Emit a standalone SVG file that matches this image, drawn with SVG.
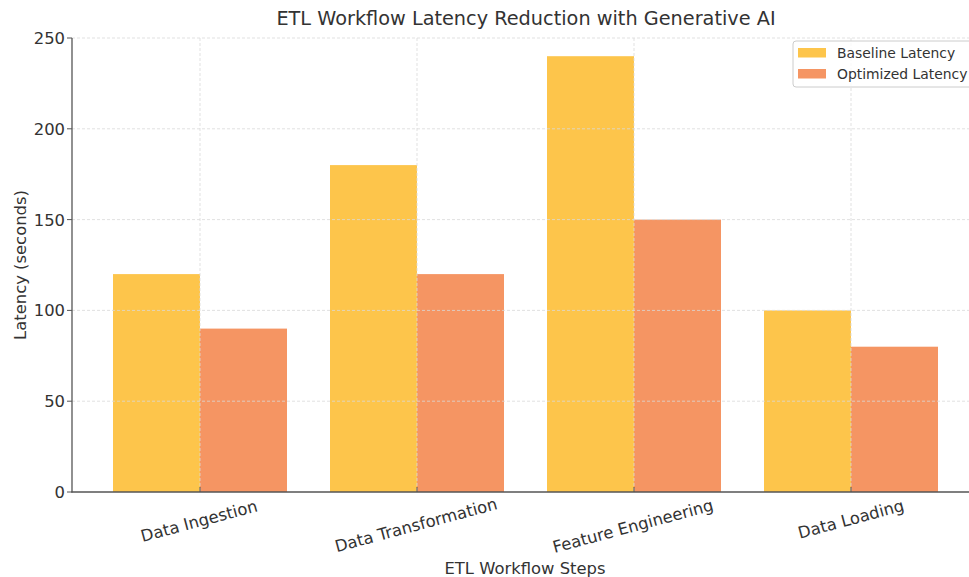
<svg xmlns="http://www.w3.org/2000/svg" width="969" height="577" viewBox="0 0 969 577">
<style>
text{font-family:"DejaVu Sans","Liberation Sans",sans-serif;fill:#333}
.grid{stroke:#d9d9d9;stroke-width:0.8;stroke-dasharray:3,2;fill:none}
.base{fill:#FDC54B}
.opt{fill:#F59563}
.tick{font-size:16.4px}
.spine{stroke:#555;stroke-width:1.3}
</style>
<rect width="969" height="577" fill="#fff"/>
<text x="526" y="25" text-anchor="middle" font-size="19.3">ETL Workflow Latency Reduction with Generative AI</text>
<g id="bars">
<rect class="base" x="113" y="274.1" width="87" height="217.9"/>
<rect class="opt" x="200" y="328.6" width="87" height="163.4"/>
<rect class="base" x="330" y="165.1" width="87" height="326.9"/>
<rect class="opt" x="417" y="274.1" width="87" height="217.9"/>
<rect class="base" x="547" y="56.2" width="87" height="435.8"/>
<rect class="opt" x="634" y="219.6" width="87" height="272.4"/>
<rect class="base" x="764" y="310.4" width="87" height="181.6"/>
<rect class="opt" x="851" y="346.7" width="87" height="145.3"/>
</g>
<g id="gridlines">
<line class="grid" x1="72" y1="38" x2="969" y2="38"/>
<line class="grid" x1="72" y1="128.8" x2="969" y2="128.8"/>
<line class="grid" x1="72" y1="219.6" x2="969" y2="219.6"/>
<line class="grid" x1="72" y1="310.4" x2="969" y2="310.4"/>
<line class="grid" x1="72" y1="401.2" x2="969" y2="401.2"/>
<line class="grid" x1="200" y1="38" x2="200" y2="492"/>
<line class="grid" x1="417" y1="38" x2="417" y2="492"/>
<line class="grid" x1="634" y1="38" x2="634" y2="492"/>
<line class="grid" x1="851" y1="38" x2="851" y2="492"/>
</g>
<g id="axes">
<line class="spine" x1="72" y1="38" x2="72" y2="492.6"/>
<line class="spine" x1="71.4" y1="492" x2="969" y2="492"/>
<g stroke="#555" stroke-width="1">
<line x1="67" y1="38" x2="72" y2="38"/>
<line x1="67" y1="128.8" x2="72" y2="128.8"/>
<line x1="67" y1="219.6" x2="72" y2="219.6"/>
<line x1="67" y1="310.4" x2="72" y2="310.4"/>
<line x1="67" y1="401.2" x2="72" y2="401.2"/>
<line x1="67" y1="492" x2="72" y2="492"/>
<line x1="200" y1="487" x2="200" y2="492"/>
<line x1="417" y1="487" x2="417" y2="492"/>
<line x1="634" y1="487" x2="634" y2="492"/>
<line x1="851" y1="487" x2="851" y2="492"/>
</g>
<g class="tick" text-anchor="end">
<text x="65" y="44">250</text>
<text x="65" y="134.8">200</text>
<text x="65" y="225.6">150</text>
<text x="65" y="316.4">100</text>
<text x="65" y="407.2">50</text>
<text x="65" y="498">0</text>
</g>
<g class="tick" text-anchor="middle">
<text transform="translate(199,521) rotate(-15)" dy="0.35em">Data Ingestion</text>
<text transform="translate(416,525) rotate(-15)" dy="0.35em">Data Transformation</text>
<text transform="translate(633,526) rotate(-15)" dy="0.35em">Feature Engineering</text>
<text transform="translate(851,519) rotate(-15)" dy="0.35em">Data Loading</text>
</g>
<text x="525" y="574" text-anchor="middle" font-size="16.4">ETL Workflow Steps</text>
<text transform="translate(26,265) rotate(-90)" text-anchor="middle" font-size="16.4">Latency (seconds)</text>
</g>
<g id="legend">
<rect x="793" y="41" width="190" height="46" rx="3" fill="#fff" fill-opacity="0.8" stroke="#ccc" stroke-width="1"/>
<rect class="base" x="798" y="48" width="28" height="9.5"/>
<rect class="opt" x="798" y="69" width="28" height="9.5"/>
<text x="837" y="57.5" font-size="13.9">Baseline Latency</text>
<text x="837" y="78.5" font-size="13.9">Optimized Latency</text>
</g>
</svg>
